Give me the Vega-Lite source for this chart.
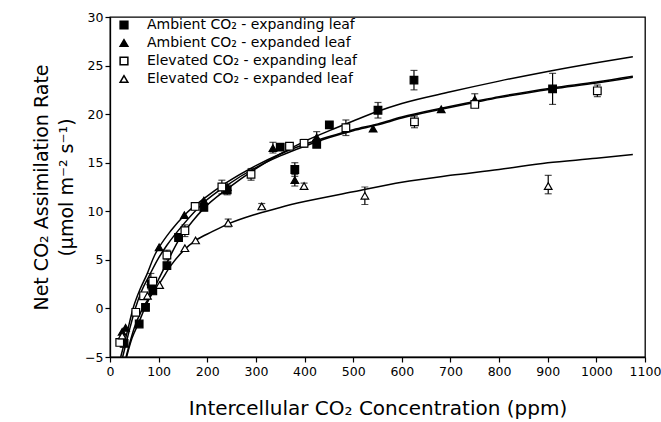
{
  "$schema": "https://vega.github.io/schema/vega-lite/v6.json",
  "width": 535,
  "height": 340,
  "autosize": "none",
  "padding": {"left": 110, "top": 17, "right": 16, "bottom": 65},
  "background": "white",
  "config": {
    "font": "DejaVu Sans",
    "view": {"stroke": "black", "strokeWidth": 1.3},
    "axis": {
      "grid": false,
      "domainColor": "black",
      "domainWidth": 1.3,
      "tickColor": "black",
      "tickWidth": 1.2,
      "tickSize": 5,
      "labelColor": "black",
      "titleColor": "black",
      "labelFont": "DejaVu Sans",
      "titleFont": "DejaVu Sans",
      "labelFontSize": 12.5,
      "titleFontWeight": "normal",
      "labelOverlap": false
    },
    "axisX": {
      "tickCount": 11,
      "format": "d",
      "labelPadding": 3,
      "labelOverlap": false,
      "labelFlush": false,
      "titlePadding": 21,
      "titleFontSize": 20
    },
    "axisY": {
      "tickCount": 8,
      "format": "d",
      "titleLineHeight": 25,
      "titlePadding": 8,
      "labelPadding": 2,
      "titleFontSize": 19
    }
  },
  "datasets": {
    "pts": [
      {"s": "Ambient CO₂ - expanding leaf", "x": 29, "y": -3.6},
      {"s": "Ambient CO₂ - expanding leaf", "x": 60, "y": -1.6},
      {"s": "Ambient CO₂ - expanding leaf", "x": 73, "y": 0.1},
      {"s": "Ambient CO₂ - expanding leaf", "x": 85, "y": 2.5},
      {"s": "Ambient CO₂ - expanding leaf", "x": 88, "y": 1.8},
      {"s": "Ambient CO₂ - expanding leaf", "x": 117, "y": 4.4},
      {"s": "Ambient CO₂ - expanding leaf", "x": 141, "y": 7.3},
      {"s": "Ambient CO₂ - expanding leaf", "x": 193, "y": 10.4},
      {"s": "Ambient CO₂ - expanding leaf", "x": 241, "y": 12.2},
      {"s": "Ambient CO₂ - expanding leaf", "x": 350, "y": 16.6},
      {"s": "Ambient CO₂ - expanding leaf", "x": 380, "y": 14.3},
      {"s": "Ambient CO₂ - expanding leaf", "x": 425, "y": 16.9},
      {"s": "Ambient CO₂ - expanding leaf", "x": 451, "y": 18.9},
      {"s": "Ambient CO₂ - expanding leaf", "x": 551, "y": 20.4},
      {"s": "Ambient CO₂ - expanding leaf", "x": 625, "y": 23.5},
      {"s": "Ambient CO₂ - expanding leaf", "x": 910, "y": 22.6},
      {"s": "Ambient CO₂ - expanded leaf", "x": 25, "y": -2.4},
      {"s": "Ambient CO₂ - expanded leaf", "x": 32, "y": -2.0},
      {"s": "Ambient CO₂ - expanded leaf", "x": 84, "y": 2.8},
      {"s": "Ambient CO₂ - expanded leaf", "x": 101, "y": 6.3},
      {"s": "Ambient CO₂ - expanded leaf", "x": 153, "y": 9.6},
      {"s": "Ambient CO₂ - expanded leaf", "x": 193, "y": 11.1},
      {"s": "Ambient CO₂ - expanded leaf", "x": 241, "y": 12.5},
      {"s": "Ambient CO₂ - expanded leaf", "x": 335, "y": 16.5},
      {"s": "Ambient CO₂ - expanded leaf", "x": 380, "y": 13.2},
      {"s": "Ambient CO₂ - expanded leaf", "x": 425, "y": 17.6},
      {"s": "Ambient CO₂ - expanded leaf", "x": 541, "y": 18.5},
      {"s": "Ambient CO₂ - expanded leaf", "x": 681, "y": 20.5},
      {"s": "Ambient CO₂ - expanded leaf", "x": 750, "y": 21.5},
      {"s": "Elevated CO₂ - expanding leaf", "x": 20, "y": -3.5},
      {"s": "Elevated CO₂ - expanding leaf", "x": 53, "y": -0.4},
      {"s": "Elevated CO₂ - expanding leaf", "x": 69, "y": 1.3},
      {"s": "Elevated CO₂ - expanding leaf", "x": 88, "y": 2.8},
      {"s": "Elevated CO₂ - expanding leaf", "x": 117, "y": 5.5},
      {"s": "Elevated CO₂ - expanding leaf", "x": 154, "y": 8.0},
      {"s": "Elevated CO₂ - expanding leaf", "x": 175, "y": 10.5},
      {"s": "Elevated CO₂ - expanding leaf", "x": 230, "y": 12.5},
      {"s": "Elevated CO₂ - expanding leaf", "x": 290, "y": 13.8},
      {"s": "Elevated CO₂ - expanding leaf", "x": 369, "y": 16.7},
      {"s": "Elevated CO₂ - expanding leaf", "x": 399, "y": 17.0},
      {"s": "Elevated CO₂ - expanding leaf", "x": 485, "y": 18.6},
      {"s": "Elevated CO₂ - expanding leaf", "x": 626, "y": 19.2},
      {"s": "Elevated CO₂ - expanding leaf", "x": 750, "y": 21.0},
      {"s": "Elevated CO₂ - expanding leaf", "x": 1002, "y": 22.4},
      {"s": "Elevated CO₂ - expanded leaf", "x": 25, "y": -2.8},
      {"s": "Elevated CO₂ - expanded leaf", "x": 77, "y": 1.3},
      {"s": "Elevated CO₂ - expanded leaf", "x": 102, "y": 2.4},
      {"s": "Elevated CO₂ - expanded leaf", "x": 154, "y": 6.2},
      {"s": "Elevated CO₂ - expanded leaf", "x": 176, "y": 7.0},
      {"s": "Elevated CO₂ - expanded leaf", "x": 243, "y": 8.8},
      {"s": "Elevated CO₂ - expanded leaf", "x": 312, "y": 10.5},
      {"s": "Elevated CO₂ - expanded leaf", "x": 399, "y": 12.6},
      {"s": "Elevated CO₂ - expanded leaf", "x": 524, "y": 11.6},
      {"s": "Elevated CO₂ - expanded leaf", "x": 901, "y": 12.6}
    ],
    "errs": [
      {"x": 380, "lo": 13.6, "hi": 15.0},
      {"x": 551, "lo": 19.6, "hi": 21.2},
      {"x": 625, "lo": 22.5, "hi": 24.5},
      {"x": 910, "lo": 21.0, "hi": 24.2},
      {"x": 241, "lo": 11.7, "hi": 12.7},
      {"x": 335, "lo": 16.0, "hi": 17.1},
      {"x": 380, "lo": 12.6, "hi": 13.8},
      {"x": 425, "lo": 17.0, "hi": 18.2},
      {"x": 750, "lo": 21.0, "hi": 22.1},
      {"x": 84, "lo": 2.0, "hi": 3.6},
      {"x": 485, "lo": 17.8, "hi": 19.4},
      {"x": 626, "lo": 18.6, "hi": 19.8},
      {"x": 1002, "lo": 21.8, "hi": 23.0},
      {"x": 230, "lo": 11.8, "hi": 13.2},
      {"x": 290, "lo": 13.2, "hi": 14.4},
      {"x": 399, "lo": 16.6, "hi": 17.4},
      {"x": 154, "lo": 7.4, "hi": 8.6},
      {"x": 117, "lo": 5.0, "hi": 6.0},
      {"x": 524, "lo": 10.7, "hi": 12.5},
      {"x": 901, "lo": 11.8, "hi": 13.7},
      {"x": 399, "lo": 12.3, "hi": 12.9},
      {"x": 243, "lo": 8.4, "hi": 9.2},
      {"x": 312, "lo": 10.2, "hi": 10.8}
    ],
    "curves": [
      {"c": "A1", "x": 34, "y": -5},
      {"c": "A1", "x": 45, "y": -3.1},
      {"c": "A1", "x": 58, "y": -1.6},
      {"c": "A1", "x": 73, "y": 0.2},
      {"c": "A1", "x": 88, "y": 1.7},
      {"c": "A1", "x": 100, "y": 3.0},
      {"c": "A1", "x": 116, "y": 4.6},
      {"c": "A1", "x": 141, "y": 7.0},
      {"c": "A1", "x": 170, "y": 9.0},
      {"c": "A1", "x": 193, "y": 10.3},
      {"c": "A1", "x": 241, "y": 12.3},
      {"c": "A1", "x": 300, "y": 14.4},
      {"c": "A1", "x": 350, "y": 15.9},
      {"c": "A1", "x": 400, "y": 17.2},
      {"c": "A1", "x": 451, "y": 18.3},
      {"c": "A1", "x": 500, "y": 19.3},
      {"c": "A1", "x": 551, "y": 20.3},
      {"c": "A1", "x": 600, "y": 21.1},
      {"c": "A1", "x": 700, "y": 22.3},
      {"c": "A1", "x": 800, "y": 23.4},
      {"c": "A1", "x": 900, "y": 24.4},
      {"c": "A1", "x": 1000, "y": 25.3},
      {"c": "A1", "x": 1075, "y": 25.9},
      {"c": "A2", "x": 22, "y": -5},
      {"c": "A2", "x": 35, "y": -2.5},
      {"c": "A2", "x": 48, "y": 0.1},
      {"c": "A2", "x": 62, "y": 2.0},
      {"c": "A2", "x": 75, "y": 3.4},
      {"c": "A2", "x": 92, "y": 5.5},
      {"c": "A2", "x": 101, "y": 6.3},
      {"c": "A2", "x": 125, "y": 8.0},
      {"c": "A2", "x": 153, "y": 9.6},
      {"c": "A2", "x": 193, "y": 11.3},
      {"c": "A2", "x": 241, "y": 13.0},
      {"c": "A2", "x": 300, "y": 14.7},
      {"c": "A2", "x": 350, "y": 15.9},
      {"c": "A2", "x": 400, "y": 16.9},
      {"c": "A2", "x": 451, "y": 17.7},
      {"c": "A2", "x": 500, "y": 18.4},
      {"c": "A2", "x": 551, "y": 19.0},
      {"c": "A2", "x": 600, "y": 19.7},
      {"c": "A2", "x": 681, "y": 20.6},
      {"c": "A2", "x": 750, "y": 21.3},
      {"c": "A2", "x": 800, "y": 21.8},
      {"c": "A2", "x": 910, "y": 22.7},
      {"c": "A2", "x": 1000, "y": 23.3},
      {"c": "A2", "x": 1075, "y": 23.9},
      {"c": "E1", "x": 26, "y": -5},
      {"c": "E1", "x": 38, "y": -2.6},
      {"c": "E1", "x": 52, "y": 0},
      {"c": "E1", "x": 65, "y": 1.8},
      {"c": "E1", "x": 80, "y": 3.3},
      {"c": "E1", "x": 100, "y": 5.2},
      {"c": "E1", "x": 117, "y": 6.5},
      {"c": "E1", "x": 150, "y": 8.6},
      {"c": "E1", "x": 193, "y": 10.9},
      {"c": "E1", "x": 241, "y": 12.7},
      {"c": "E1", "x": 300, "y": 14.5},
      {"c": "E1", "x": 350, "y": 15.7},
      {"c": "E1", "x": 400, "y": 16.7},
      {"c": "E1", "x": 451, "y": 17.6},
      {"c": "E1", "x": 500, "y": 18.3},
      {"c": "E1", "x": 551, "y": 18.9},
      {"c": "E1", "x": 600, "y": 19.6},
      {"c": "E1", "x": 681, "y": 20.5},
      {"c": "E1", "x": 750, "y": 21.2},
      {"c": "E1", "x": 800, "y": 21.7},
      {"c": "E1", "x": 910, "y": 22.6},
      {"c": "E1", "x": 1000, "y": 23.2},
      {"c": "E1", "x": 1075, "y": 23.8},
      {"c": "E2", "x": 33, "y": -5},
      {"c": "E2", "x": 50, "y": -2.0},
      {"c": "E2", "x": 65, "y": -0.2},
      {"c": "E2", "x": 82, "y": 1.2},
      {"c": "E2", "x": 102, "y": 2.6},
      {"c": "E2", "x": 125, "y": 4.4},
      {"c": "E2", "x": 150, "y": 5.9},
      {"c": "E2", "x": 176, "y": 7.0},
      {"c": "E2", "x": 210, "y": 7.9},
      {"c": "E2", "x": 243, "y": 8.7},
      {"c": "E2", "x": 300, "y": 9.7},
      {"c": "E2", "x": 350, "y": 10.4},
      {"c": "E2", "x": 400, "y": 11.0},
      {"c": "E2", "x": 500, "y": 12.0},
      {"c": "E2", "x": 600, "y": 13.0},
      {"c": "E2", "x": 700, "y": 13.7},
      {"c": "E2", "x": 800, "y": 14.3},
      {"c": "E2", "x": 900, "y": 15.0},
      {"c": "E2", "x": 1000, "y": 15.45},
      {"c": "E2", "x": 1075, "y": 15.85}
    ]
  },
  "layer": [
    {
      "data": {"name": "curves"},
      "mark": {"type": "line", "color": "black", "strokeWidth": 1.5, "interpolate": "monotone"},
      "encoding": {
        "x": {
          "field": "x", "type": "quantitative",
          "scale": {"domain": [0, 1100], "nice": false, "zero": false},
          "title": "Intercellular CO₂ Concentration (ppm)"
        },
        "y": {
          "field": "y", "type": "quantitative",
          "scale": {"domain": [-5, 30], "nice": false, "zero": false},
          "title": ["Net CO₂ Assimilation Rate", "(µmol m⁻² s⁻¹)"]
        },
        "detail": {"field": "c"}
      }
    },
    {
      "data": {"name": "errs"},
      "mark": {"type": "rule", "color": "black", "strokeWidth": 1.2},
      "encoding": {
        "x": {"field": "x", "type": "quantitative", "title": "Intercellular CO₂ Concentration (ppm)"},
        "y": {"field": "lo", "type": "quantitative", "title": ["Net CO₂ Assimilation Rate", "(µmol m⁻² s⁻¹)"]},
        "y2": {"field": "hi"}
      }
    },
    {
      "data": {"name": "errs"},
      "mark": {"type": "tick", "orient": "horizontal", "size": 7, "thickness": 1.2, "color": "black"},
      "encoding": {
        "x": {"field": "x", "type": "quantitative", "title": "Intercellular CO₂ Concentration (ppm)"},
        "y": {"field": "lo", "type": "quantitative", "title": ["Net CO₂ Assimilation Rate", "(µmol m⁻² s⁻¹)"]}
      }
    },
    {
      "data": {"name": "errs"},
      "mark": {"type": "tick", "orient": "horizontal", "size": 7, "thickness": 1.2, "color": "black"},
      "encoding": {
        "x": {"field": "x", "type": "quantitative", "title": "Intercellular CO₂ Concentration (ppm)"},
        "y": {"field": "hi", "type": "quantitative", "title": ["Net CO₂ Assimilation Rate", "(µmol m⁻² s⁻¹)"]}
      }
    },
    {
      "data": {"name": "pts"},
      "mark": {"type": "point", "filled": true, "strokeWidth": 1.2, "size": 58, "opacity": 1},
      "encoding": {
        "x": {"field": "x", "type": "quantitative", "title": "Intercellular CO₂ Concentration (ppm)"},
        "y": {"field": "y", "type": "quantitative", "title": ["Net CO₂ Assimilation Rate", "(µmol m⁻² s⁻¹)"]},
        "stroke": {"value": "black"},
        "shape": {
          "field": "s", "type": "nominal",
          "scale": {
            "domain": ["Ambient CO₂ - expanding leaf", "Ambient CO₂ - expanded leaf", "Elevated CO₂ - expanding leaf", "Elevated CO₂ - expanded leaf"],
            "range": ["square", "triangle-up", "square", "triangle-up"]
          },
          "legend": {
            "title": null, "orient": "none", "legendX": 7, "legendY": 1, "padding": 0,
            "labelFontSize": 14, "labelColor": "black", "labelFont": "DejaVu Sans", "labelLimit": 400,
            "symbolSize": 60, "rowPadding": 4, "labelOffset": 16,
            "encode": {"symbols": {"update": {"stroke": {"value": "black"}, "strokeWidth": {"value": 1.2}}}}
          }
        },
        "fill": {
          "field": "s", "type": "nominal",
          "scale": {
            "domain": ["Ambient CO₂ - expanding leaf", "Ambient CO₂ - expanded leaf", "Elevated CO₂ - expanding leaf", "Elevated CO₂ - expanded leaf"],
            "range": ["black", "black", "white", "white"]
          },
          "legend": {
            "title": null, "orient": "none", "legendX": 7, "legendY": 1, "padding": 0,
            "labelFontSize": 14, "labelColor": "black", "labelFont": "DejaVu Sans", "labelLimit": 400,
            "symbolSize": 60, "rowPadding": 4, "labelOffset": 16,
            "encode": {"symbols": {"update": {"stroke": {"value": "black"}, "strokeWidth": {"value": 1.2}}}}
          }
        }
      }
    }
  ]
}
